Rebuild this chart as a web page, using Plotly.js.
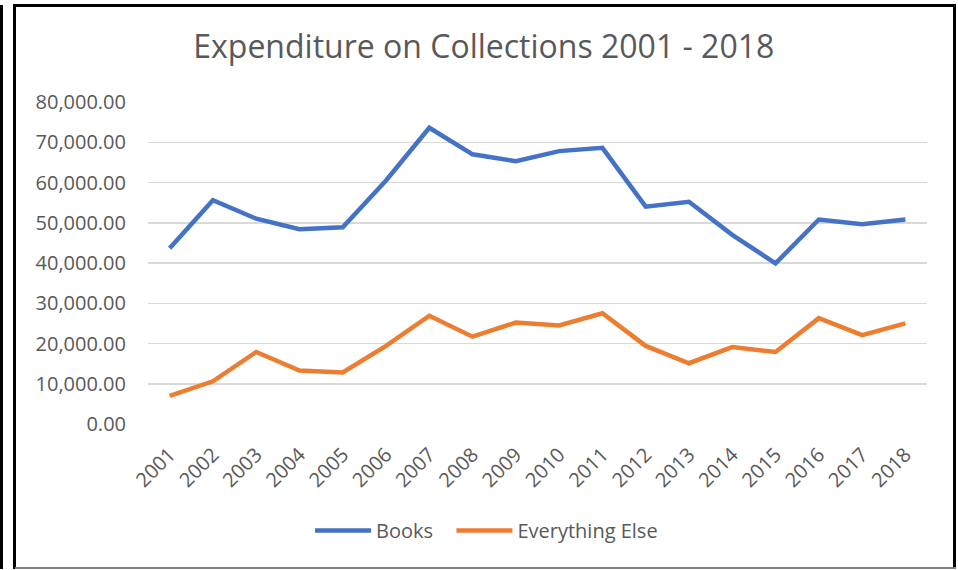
<!DOCTYPE html>
<html>
<head>
<meta charset="utf-8">
<script src="https://cdn.plot.ly/plotly-3.0.1.min.js"></script>
<style>
  html, body { margin: 0; padding: 0; background: #ffffff; }
  #wrap { position: relative; width: 958px; height: 570px; overflow: hidden; }
  #chart { position: absolute; left: 0; top: 0; width: 958px; height: 570px; }
  .b { position: absolute; pointer-events: none; }
</style>
</head>
<body>
<div id="wrap">
  <div id="chart"></div>
  <div class="b" style="left:0px; top:5px; width:3px; height:564px; background:#000;"></div>
  <div class="b" style="left:13px; top:4px; width:943px; height:3px; background:#000;"></div>
  <div class="b" style="left:13px; top:4px; width:3px; height:565px; background:#000;"></div>
  <div class="b" style="left:953px; top:4px; width:3px; height:565px; background:#000;"></div>
  <div class="b" style="left:15px; top:567px; width:941px; height:2px; background:#7f7f7f;"></div>
</div>
<script>
const years = ["2001","2002","2003","2004","2005","2006","2007","2008","2009","2010","2011","2012","2013","2014","2015","2016","2017","2018"];
const books = [43650, 55600, 51000, 48400, 48900, 60500, 73600, 67000, 65300, 67800, 68600, 54000, 55200, 47000, 39900, 50800, 49600, 50800];
const everythingElse = [7000, 10600, 17900, 13300, 12800, 19400, 26900, 21700, 25200, 24500, 27500, 19400, 15100, 19100, 17900, 26300, 22100, 25000];
const seriesNames = ["Books", "Everything Else"];
const chartTitle = "Expenditure on Collections 2001 - 2018";

const font = "Open Sans, Noto Sans, sans-serif";
const grey = "#595959";

const traces = [
  { x: years, y: books, name: seriesNames[0], type: "scatter", mode: "lines", legend: "legend",
    line: { color: "#4472C4", width: 4.5 }, hoverinfo: "x+y+name" },
  { x: years, y: everythingElse, name: seriesNames[1], type: "scatter", mode: "lines", legend: "legend2",
    line: { color: "#ED7D31", width: 4.5 }, hoverinfo: "x+y+name" }
];

const legendBase = { orientation: "h", xanchor: "left", y: -0.331, yanchor: "middle",
  font: { size: 20, color: grey }, itemwidth: 56, bgcolor: "rgba(0,0,0,0)" };

const layout = {
  width: 958, height: 570,
  margin: { l: 148, r: 31, t: 102, b: 146, pad: 0 },
  paper_bgcolor: "#ffffff", plot_bgcolor: "#ffffff",
  font: { family: font, color: grey, size: 20 },
  title: { text: chartTitle, font: { family: font, size: 32, color: grey },
           x: 0.505, xref: "container", xanchor: "center", y: 0.918, yref: "container", yanchor: "middle" },
  xaxis: { type: "category", range: [-0.5, years.length - 0.5], tickangle: -45, showgrid: false,
           zeroline: false, showline: false,
           ticks: "", tickfont: { size: 20, color: grey }, ticklabelstandoff: 14, fixedrange: true },
  yaxis: { range: [0, 80000], dtick: 10000, tickformat: ",.2f", showgrid: true, gridcolor: "#D9D9D9",
           gridwidth: 1.5, zeroline: false, showline: false, ticks: "",
           tickfont: { size: 20, color: grey }, ticklabelstandoff: 21, fixedrange: true },
  showlegend: true,
  legend: Object.assign({}, legendBase, { x: 0.208 }),
  legend2: Object.assign({}, legendBase, { x: 0.3895 })
};

Plotly.newPlot("chart", traces, layout, { displayModeBar: false, staticPlot: true });
</script>
</body>
</html>
